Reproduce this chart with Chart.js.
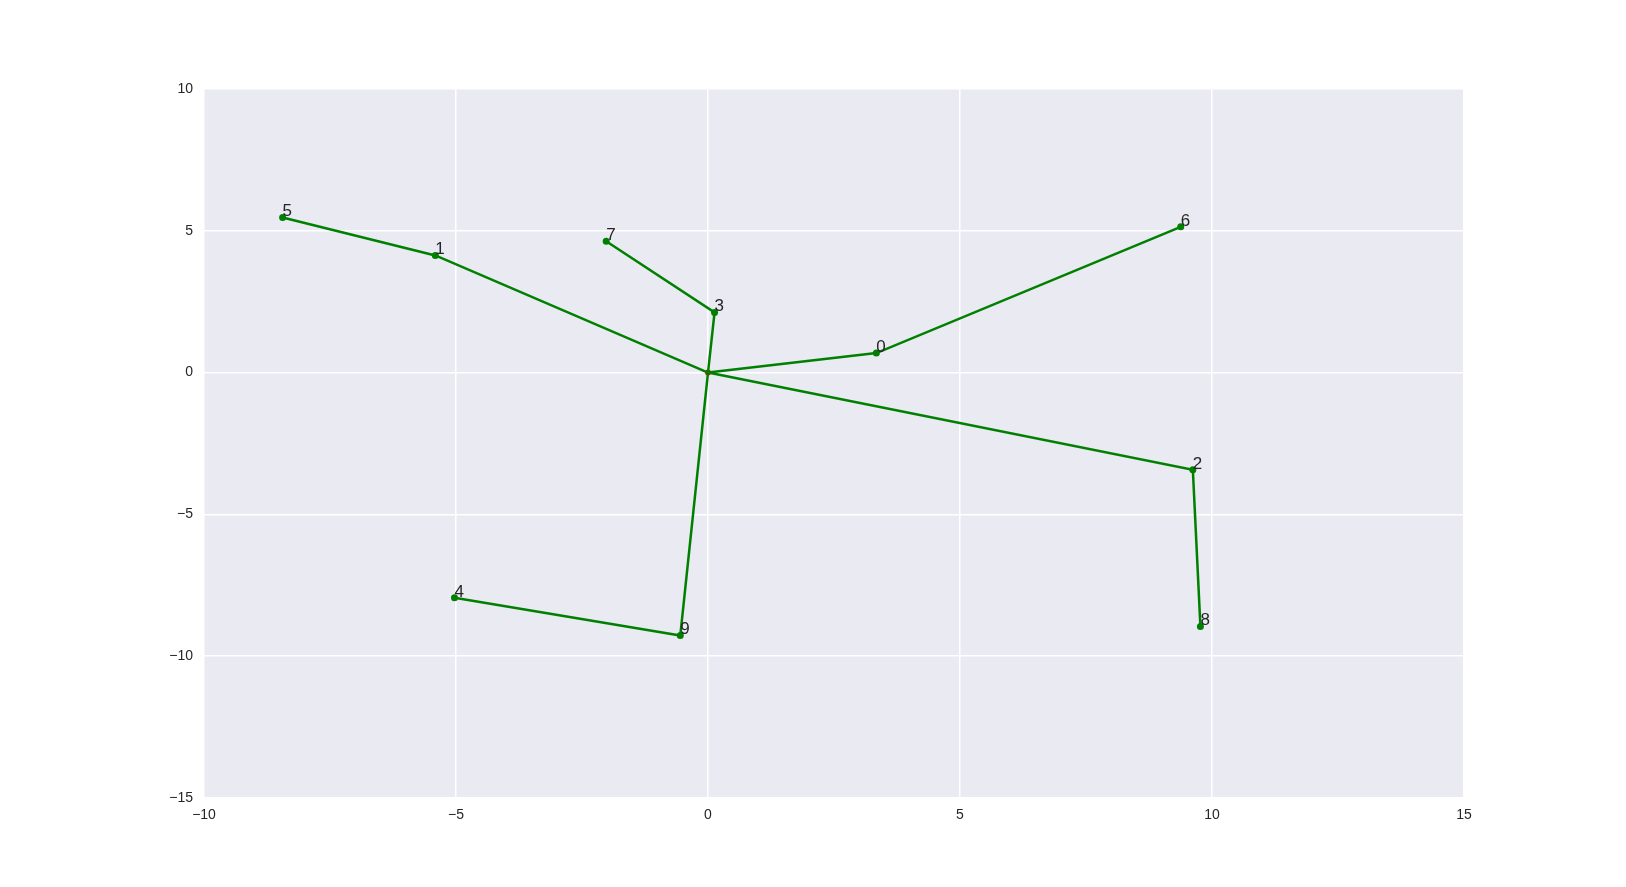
<!DOCTYPE html>
<html>
<head>
<meta charset="utf-8">
<script src="https://cdn.jsdelivr.net/npm/chart.js@4"></script>
<style>
  html, body { margin: 0; padding: 0; background: #fff; }
  #wrap { width: 1626px; height: 887px; position: relative; }
</style>
</head>
<body>
<div id="wrap"><canvas id="treeChart"></canvas></div>
<script>
// node positions
const nodeIds = [0, 1, 2, 3, 4, 5, 6, 7, 8, 9];
const nodeX = [3.34, -5.41, 9.62, 0.13, -5.03, -8.44, 9.38, -2.02, 9.77, -0.55];
const nodeY = [0.69, 4.13, -3.43, 2.12, -7.94, 5.47, 5.14, 4.63, -8.95, -9.27];
const center = { x: 0, y: 0 };
// each branch goes center -> first node -> second node
const branches = [[1, 5], [3, 7], [0, 6], [2, 8], [9, 4]];
const xTicks = [-10, -5, 0, 5, 10, 15];
const yTicks = [-15, -10, -5, 0, 5, 10];

const fontFamily = '"Liberation Sans", Arial, sans-serif';
const textColor = '#262626';

const minus = v => String(v).replace('-', '\u2212');

const branchSets = branches.map(b => ({
    data: [center].concat(b.map(i => ({ x: nodeX[i], y: nodeY[i] }))),
    showLine: true,
    borderColor: '#008000',
    borderWidth: 2.5,
    pointRadius: [0, 3.5, 3.5],
    pointBackgroundColor: '#008000',
    pointBorderWidth: 0,
    order: 1
}));

// small red marker at the center, below the lines
const centerSet = {
    data: [center],
    pointRadius: 3,
    pointBackgroundColor: 'red',
    pointBorderWidth: 0,
    order: 10
};

const plotBg = {
    id: 'plotBg',
    beforeDraw(chart) {
        const a = chart.chartArea;
        const c = chart.ctx;
        c.save();
        c.fillStyle = '#EAEAF2';
        c.fillRect(a.left, a.top, a.right - a.left, a.bottom - a.top);
        c.restore();
    }
};

const nodeLabels = {
    id: 'nodeLabels',
    afterDatasetsDraw(chart) {
        const c = chart.ctx;
        const xs = chart.scales.x, ys = chart.scales.y;
        c.save();
        c.font = '17px ' + fontFamily;
        c.fillStyle = textColor;
        c.textAlign = 'left';
        c.textBaseline = 'alphabetic';
        nodeIds.forEach((id, i) => {
            c.fillText(String(id), xs.getPixelForValue(nodeX[i]), ys.getPixelForValue(nodeY[i]) - 1);
        });
        c.restore();
    }
};

const ctx = document.getElementById('treeChart').getContext('2d');
const treeChart = new Chart(ctx, {
    type: 'scatter',
    data: { datasets: branchSets.concat([centerSet]) },
    options: {
        responsive: true,
        maintainAspectRatio: false,
        animation: false,
        layout: { padding: { left: 0, top: 89, right: 162, bottom: 59 } },
        scales: {
            x: {
                min: xTicks[0],
                max: xTicks[xTicks.length - 1],
                afterBuildTicks: s => { s.ticks = xTicks.map(v => ({ value: v })); },
                afterFit: s => { s.height = 30; },
                grid: { color: '#ffffff', lineWidth: 1.5, drawTicks: false },
                border: { display: false },
                ticks: {
                    padding: 9,
                    color: textColor,
                    font: { family: fontFamily, size: 14 },
                    maxRotation: 0,
                    callback: v => minus(v)
                }
            },
            y: {
                min: yTicks[0],
                max: yTicks[yTicks.length - 1],
                afterBuildTicks: s => { s.ticks = yTicks.map(v => ({ value: v })); },
                afterFit: s => { s.width = 204; },
                grid: { color: '#ffffff', lineWidth: 1.5, drawTicks: false },
                border: { display: false },
                ticks: {
                    padding: 11,
                    color: textColor,
                    font: { family: fontFamily, size: 14 },
                    callback: v => minus(v)
                }
            }
        },
        plugins: {
            legend: { display: false },
            tooltip: { enabled: false }
        }
    },
    plugins: [plotBg, nodeLabels]
});
</script>
</body>
</html>
